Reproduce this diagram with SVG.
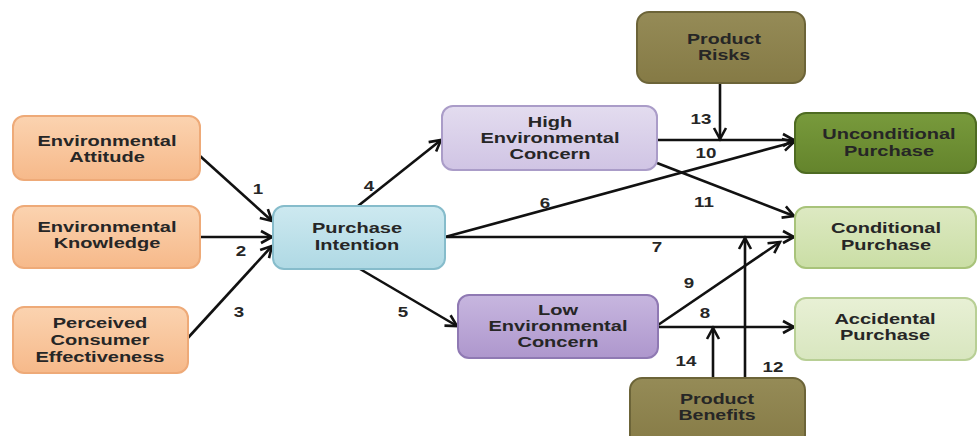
<svg xmlns="http://www.w3.org/2000/svg" width="978" height="436" viewBox="0 0 978 436">
<style>
.t{font-family:"Liberation Sans",Arial,sans-serif;font-weight:bold;font-size:14.5px;fill:#262626;text-anchor:middle}
.n{font-family:"Liberation Sans",Arial,sans-serif;font-weight:bold;font-size:15px;fill:#262626;text-anchor:middle}
.c{fill:none;stroke:#111;stroke-width:2.6}
.a{marker-end:url(#ah)}
rect{stroke-width:2}
</style>
<defs>
<marker id="ah" markerUnits="userSpaceOnUse" markerWidth="16" markerHeight="16" viewBox="0 0 16 16" refX="13" refY="8" orient="auto">
<path d="M2,2 L13,8 L2,14" fill="none" stroke="#111" stroke-width="2.6"/>
</marker>
<linearGradient id="gO" x1="0" y1="0" x2="0" y2="1"><stop offset="0" stop-color="#fbd3b0"/><stop offset="1" stop-color="#f6b98a"/></linearGradient>
<linearGradient id="gB" x1="0" y1="0" x2="0" y2="1"><stop offset="0" stop-color="#cde9f0"/><stop offset="1" stop-color="#afd9e4"/></linearGradient>
<linearGradient id="gH" x1="0" y1="0" x2="0" y2="1"><stop offset="0" stop-color="#e3dcef"/><stop offset="1" stop-color="#d0c4e4"/></linearGradient>
<linearGradient id="gL" x1="0" y1="0" x2="0" y2="1"><stop offset="0" stop-color="#c7b6df"/><stop offset="1" stop-color="#ae97cd"/></linearGradient>
<linearGradient id="gK" x1="0" y1="0" x2="0" y2="1"><stop offset="0" stop-color="#958b57"/><stop offset="1" stop-color="#857a45"/></linearGradient>
<linearGradient id="gU" x1="0" y1="0" x2="0" y2="1"><stop offset="0" stop-color="#789a3c"/><stop offset="1" stop-color="#64842c"/></linearGradient>
<linearGradient id="gC" x1="0" y1="0" x2="0" y2="1"><stop offset="0" stop-color="#dde9c2"/><stop offset="1" stop-color="#cadea5"/></linearGradient>
<linearGradient id="gA" x1="0" y1="0" x2="0" y2="1"><stop offset="0" stop-color="#e8f0d5"/><stop offset="1" stop-color="#d8e6bf"/></linearGradient>
</defs>
<rect width="978" height="436" fill="#ffffff"/>

<g id="connectors">
<line class="c a" x1="200" y1="156" x2="272" y2="221"/>
<line class="c a" x1="200" y1="237" x2="272" y2="237"/>
<line class="c a" x1="186" y1="340" x2="272" y2="246"/>
<line class="c a" x1="358" y1="206" x2="441" y2="140"/>
<line class="c a" x1="360" y1="269" x2="457" y2="326"/>
<line class="c a" x1="445" y1="237" x2="794" y2="142"/>
<line class="c a" x1="445" y1="237" x2="794" y2="237"/>
<line class="c a" x1="657" y1="140" x2="794" y2="140"/>
<line class="c a" x1="720" y1="83" x2="720" y2="139"/>
<line class="c a" x1="657" y1="163" x2="794" y2="216"/>
<line class="c a" x1="658" y1="325" x2="780" y2="242"/>
<line class="c a" x1="658" y1="327" x2="794" y2="327"/>
<line class="c a" x1="713" y1="378" x2="713" y2="328"/>
<line class="c a" x1="745" y1="378" x2="745" y2="238"/>
<text class="n" transform="translate(258,194) scale(1.25,1)">1</text>
<text class="n" transform="translate(241,256) scale(1.25,1)">2</text>
<text class="n" transform="translate(239,317) scale(1.25,1)">3</text>
<text class="n" transform="translate(369,191) scale(1.25,1)">4</text>
<text class="n" transform="translate(403,317) scale(1.25,1)">5</text>
<text class="n" transform="translate(545,208) scale(1.25,1)">6</text>
<text class="n" transform="translate(657,252) scale(1.25,1)">7</text>
<text class="n" transform="translate(705,318) scale(1.25,1)">8</text>
<text class="n" transform="translate(689,288) scale(1.25,1)">9</text>
<text class="n" transform="translate(706,158) scale(1.25,1)">10</text>
<text class="n" transform="translate(704,207) scale(1.25,1)">11</text>
<text class="n" transform="translate(773,372) scale(1.25,1)">12</text>
<text class="n" transform="translate(701,124) scale(1.25,1)">13</text>
<text class="n" transform="translate(686,366) scale(1.25,1)">14</text>
</g>

<g id="env-attitude">
<rect x="13" y="116" width="187" height="64" rx="11" fill="url(#gO)" stroke="#eeaa78"/>
<text class="t" transform="translate(107,146) scale(1.38,1)"><tspan x="0">Environmental</tspan><tspan x="0" dy="16.5">Attitude</tspan></text>
</g>
<g id="env-knowledge">
<rect x="13" y="206" width="187" height="62" rx="11" fill="url(#gO)" stroke="#eeaa78"/>
<text class="t" transform="translate(107,232) scale(1.38,1)"><tspan x="0">Environmental</tspan><tspan x="0" dy="16.5">Knowledge</tspan></text>
</g>
<g id="perceived-effectiveness">
<rect x="13" y="307" width="175" height="66" rx="11" fill="url(#gO)" stroke="#eeaa78"/>
<text class="t" transform="translate(100,328) scale(1.38,1)"><tspan x="0">Perceived</tspan><tspan x="0" dy="17">Consumer</tspan><tspan x="0" dy="17">Effectiveness</tspan></text>
</g>
<g id="purchase-intention">
<rect x="273" y="206" width="172" height="63" rx="11" fill="url(#gB)" stroke="#86bccb"/>
<text class="t" transform="translate(357,233) scale(1.38,1)"><tspan x="0">Purchase</tspan><tspan x="0" dy="17">Intention</tspan></text>
</g>
<g id="high-concern">
<rect x="442" y="106" width="215" height="64" rx="11" fill="url(#gH)" stroke="#aa9cc8"/>
<text class="t" transform="translate(550,127) scale(1.38,1)"><tspan x="0">High</tspan><tspan x="0" dy="16">Environmental</tspan><tspan x="0" dy="16">Concern</tspan></text>
</g>
<g id="low-concern">
<rect x="458" y="295" width="200" height="63" rx="11" fill="url(#gL)" stroke="#8f79b3"/>
<text class="t" transform="translate(558,315) scale(1.38,1)"><tspan x="0">Low</tspan><tspan x="0" dy="16">Environmental</tspan><tspan x="0" dy="16">Concern</tspan></text>
</g>
<g id="product-risks">
<rect x="637" y="12" width="168" height="71" rx="12" fill="url(#gK)" stroke="#6c6438"/>
<text class="t" transform="translate(724,44) scale(1.35,1)"><tspan x="0">Product</tspan><tspan x="0" dy="16.5">Risks</tspan></text>
</g>
<g id="unconditional">
<rect x="795" y="113" width="181" height="60" rx="11" fill="url(#gU)" stroke="#4e6b22"/>
<text class="t" transform="translate(889,139) scale(1.38,1)"><tspan x="0">Unconditional</tspan><tspan x="0" dy="17">Purchase</tspan></text>
</g>
<g id="conditional">
<rect x="795" y="207" width="181" height="61" rx="11" fill="url(#gC)" stroke="#a8c37a"/>
<text class="t" transform="translate(886,233) scale(1.38,1)"><tspan x="0">Conditional</tspan><tspan x="0" dy="17">Purchase</tspan></text>
</g>
<g id="accidental">
<rect x="795" y="298" width="181" height="62" rx="11" fill="url(#gA)" stroke="#b8cf95"/>
<text class="t" transform="translate(885,324) scale(1.38,1)"><tspan x="0">Accidental</tspan><tspan x="0" dy="16.5">Purchase</tspan></text>
</g>
<g id="product-benefits">
<rect x="630" y="378" width="175" height="72" rx="12" fill="url(#gK)" stroke="#6c6438"/>
<text class="t" transform="translate(717,404) scale(1.35,1)"><tspan x="0">Product</tspan><tspan x="0" dy="16.5">Benefits</tspan></text>
</g>
</svg>
